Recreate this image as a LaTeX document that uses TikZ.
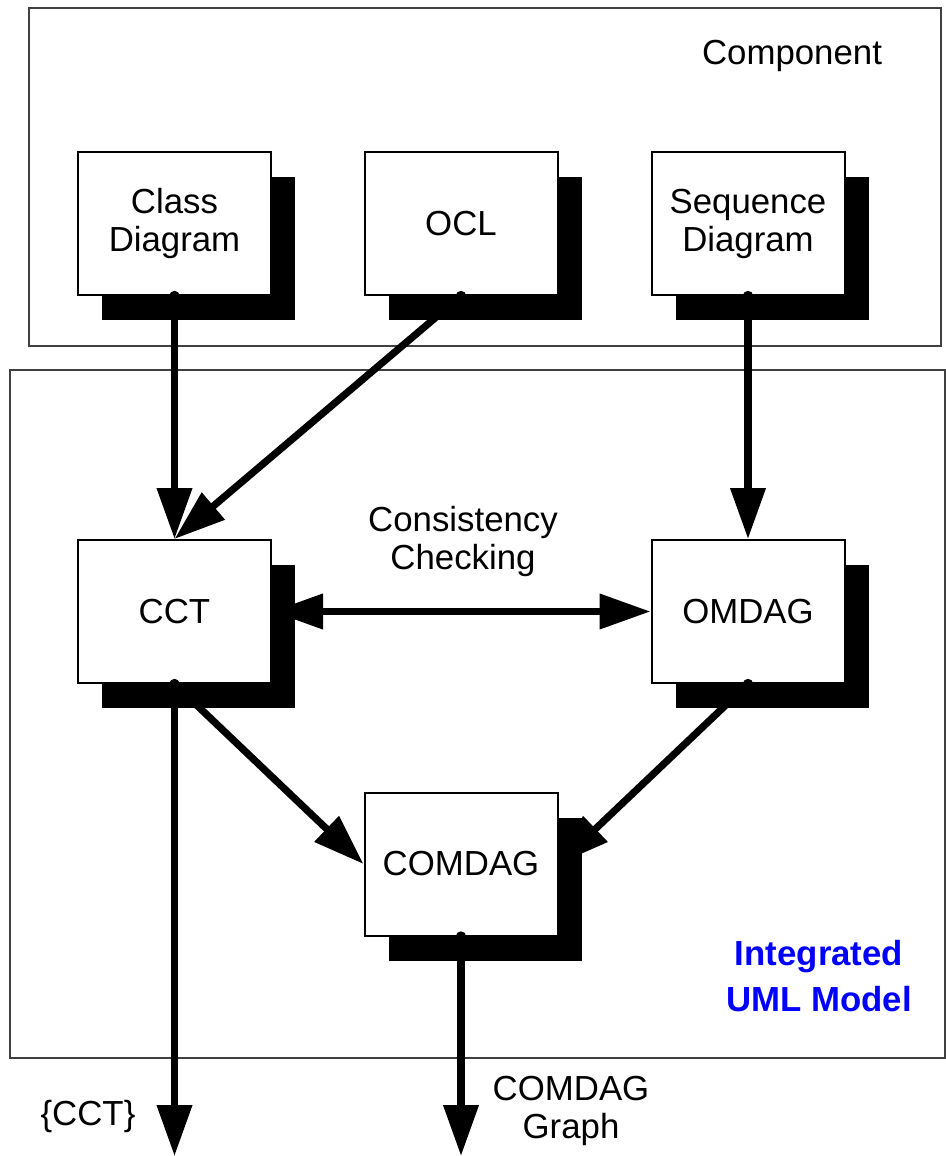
\documentclass[tikz,border=0pt]{standalone}
\usepackage{fontspec}
\setmainfont{Liberation Sans}
\usetikzlibrary{arrows.meta,shadows}

\begin{document}
\begin{tikzpicture}[
    x=0.5pt, y=-0.5pt,
    font=\fontsize{17.4}{19}\selectfont,
    box/.style={rectangle, minimum width=96.5pt, minimum height=71.5pt, align=center,
                draw=black, fill=white, line width=1pt,
                drop shadow={shadow xshift=12pt, shadow yshift=-12.5pt, fill=black, opacity=1}},
    frame/.style={draw=black!75, line width=0.6pt},
    note/.style={align=center},
    arrow/.style={line width=3.6pt, ->, >={Triangle[length=25.5pt, width=17pt]}}
]
\useasboundingbox (0,0) rectangle (946,1156);

% Frames
\draw[frame] (29,8) rectangle (941,346);
\draw[frame] (10,370) rectangle (945,1058);

% Component boxes
\node[box] (classdiag) at (174.5,223.5) {Class\\Diagram};
\node[box] (ocl) at (461,223.5) {OCL};
\node[box] (seqdiag) at (748,223.5) {Sequence\\Diagram};

% Model boxes
\node[box] (cct) at (174.5,611.5) {CCT};
\node[box] (omdag) at (748,611.5) {OMDAG};
\node[box] (comdag) at (461,864) {COMDAG};

% Outputs
\coordinate (cctout) at (174.5,1156);
\coordinate (comdagout) at (461,1156);

% Arrows
\draw[arrow] (classdiag.south) -- (cct.north);
\draw[arrow] (ocl.south) -- (cct.north);
\draw[arrow] (seqdiag.south) -- (omdag.north);
\draw[arrow, <->] (cct.east) -- (omdag.west);
\draw[arrow] (cct.south) -- (comdag.west);
\draw[arrow] (omdag.south) -- (comdag.east);
\draw[arrow] (cct.south) -- (cctout);
\draw[arrow] (comdag.south) -- (comdagout);

% Dots
\foreach \n in {classdiag,ocl,seqdiag,cct,omdag,comdag}
    \fill (\n.south) circle (2.6pt);

% Labels
\node[note] (component) at (792,56) {Component};
\node[note] (consist) at (463,541) {Consistency\\Checking};
\node[note, font=\fontsize{17.4}{23}\selectfont\bfseries, text=blue] (integrated) at (819,976) {Integrated\\UML Model};
\node[note] (cctlabel) at (88,1116) {\{CCT\}};
\node[note] (comdaglabel) at (571,1111) {COMDAG\\Graph};

\end{tikzpicture}
\end{document}
